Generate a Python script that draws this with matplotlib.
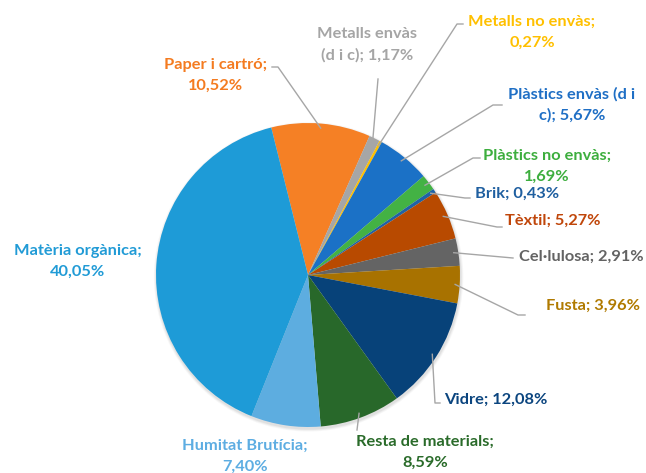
import numpy as np
import matplotlib.pyplot as plt

# composition of the waste fraction (%), clockwise order
labels = ["Paper i cartró", "Metalls envàs\n(d i c)", "Metalls no envàs", "Plàstics envàs (d i\nc)",
          "Plàstics no envàs", "Brik", "Tèxtil", "Cel·lulosa", "Fusta", "Vidre",
          "Resta de materials", "Humitat Brutícia", "Matèria orgànica"]
values = [10.52, 1.17, 0.27, 5.67, 1.69, 0.43, 5.27, 2.91, 3.96, 12.08, 8.59, 7.40, 40.05]
# how the value is joined to the name: on the same line or on a new one
seps = [";\n", "; ", ";\n", "; ", ";\n", "; ", "; ", "; ", "; ", "; ", ";\n", ";\n", ";\n"]

wedge_colors = ["#F58025", "#A6A6A6", "#FFC000", "#1B71C6", "#43B244", "#1F63A5", "#B84A00",
                "#646464", "#A87200", "#074279", "#28682A", "#5DADE0", "#1E9BD7"]
text_colors = ["#F47B20", "#A5A5A5", "#FFC000", "#1F6FC5", "#3DAE3E", "#1F5FA0", "#C0460A",
               "#636363", "#B07A00", "#0B457F", "#2A6B2A", "#5DADE2", "#219BD6"]

# label centres and leader line ends, in pixels from the top-left corner
label_px = [(216, 75), (367, 45), (532, 32), (572, 105), (547, 166), (517, 194), (553, 221),
            (581, 257), (593, 306), (496, 400), (425, 452), (245, 456), (78, 261)]
leader_px = [((278, 67), (272, 67)), ((378, 79), (378, 79)), ((457, 24), (463, 24)),
             ((493, 105), (502, 105)), ((473, 158), (480, 158)), ((465, 198), (470, 198)),
             ((497, 227), (502, 227)), ((513, 258), (513, 258)), ((518, 315), (525, 315)),
             ((435, 403), (440, 403)), ((357, 430), (357, 430)), None, None]

W, H = 646, 473
cx, cy, R = 308, 275, 152


def px(x, y):
    return (x - cx) / R, (cy - y) / R


fig = plt.figure(figsize=(W / 100, H / 100), dpi=100)
ax = fig.add_axes([0, 0, 1, 1])

# soft shadow under the pie
for k, a in enumerate([0.05, 0.04, 0.03]):
    ax.add_patch(plt.Circle((0.004, -0.012), 1.0 + 0.006 * (k + 1), color="black",
                            alpha=a, lw=0, zorder=0))

start = 90 + 14
wedges, _ = ax.pie(values, colors=wedge_colors, startangle=start, counterclock=False,
                   radius=1.0, center=(0, 0), frame=True,
                   wedgeprops=dict(linewidth=0))
ax.set_xlim(-cx / R, (W - cx) / R)
ax.set_ylim(-(H - cy) / R, cy / R)
ax.axis("off")

for i, w in enumerate(wedges):
    mid = np.deg2rad((w.theta1 + w.theta2) / 2)
    txt = labels[i] + seps[i] + f"{values[i]:.2f}".replace(".", ",") + "%"
    lx, ly = px(*label_px[i])
    ax.text(lx, ly, txt, ha="center", va="center", color=text_colors[i],
            fontsize=11.8, fontweight="bold", family="Lato", linespacing=1.6)
    if leader_px[i] is not None:
        sx, sy = 0.97 * np.cos(mid), 0.97 * np.sin(mid)
        (ex, ey), (fx, fy) = px(*leader_px[i][0]), px(*leader_px[i][1])
        ax.plot([sx, ex, fx], [sy, ey, fy], color="#A6A6A6", lw=1.0, zorder=3)

fig.savefig("out.png", dpi=100)
